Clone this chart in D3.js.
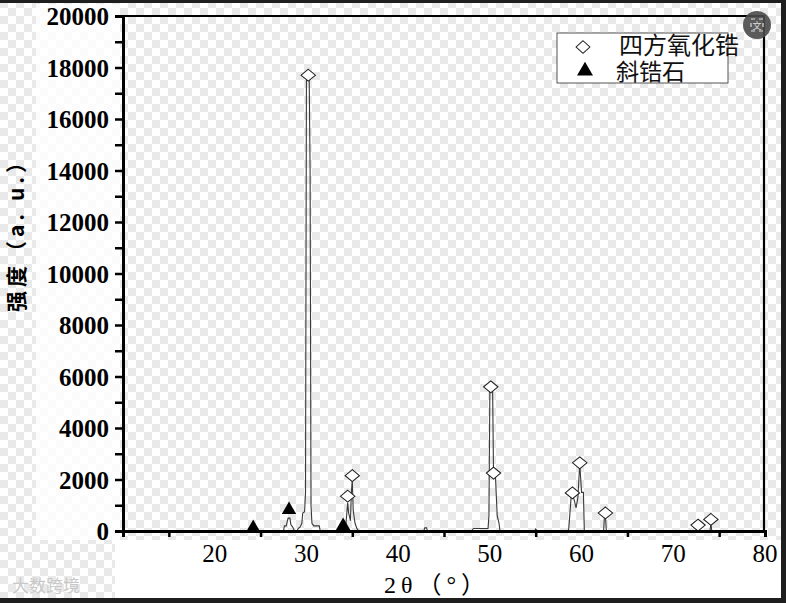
<!DOCTYPE html>
<html><head><meta charset="utf-8">
<script src="https://cdn.jsdelivr.net/npm/d3@7"></script>
<style>html,body{margin:0;padding:0;background:#fff;}svg{display:block;}</style>
</head><body>
<script>
// ---- data ----
const spectrumTheta = [26.5,27.5,27.6,27.8,27.9,28.0,28.2,28.3,28.5,28.7,29.0,29.1,29.3,29.5,29.6,29.8,29.9,30.0,30.3,30.4,30.5,30.6,30.8,31.4,31.5,
  34.2,34.3,34.5,34.6,34.8,34.9,35.0,35.1,35.3,35.5,35.7,
  42.8,42.9,43.1,43.2,
  48.0,48.2,49.8,49.9,50.0,50.3,50.4,50.6,50.8,51.0,51.1,
  54.9,55.0,55.2,
  58.5,58.6,58.9,59.2,59.4,59.6,59.8,60.0,60.2,60.3,
  62.4,62.5,62.6,62.7,
  72.6,72.7,72.8,
  74.0,74.1,74.2,76.0];
const spectrumIntensity = [0,0,200,200,350,500,500,250,150,0,0,100,150,300,700,750,1500,17500,17700,14000,1000,300,200,200,0,
  0,250,1100,700,400,1500,2000,800,300,100,0,
  0,120,120,0,
  0,100,100,600,5500,5500,2200,2200,600,300,0,
  0,80,0,
  0,80,1500,1200,900,1300,2600,1500,1500,0,
  0,600,600,0,
  0,200,0,
  0,300,0,0];
const tetragonalTheta = [30.2,34.5,35.0,50.1,50.4,59.0,59.8,62.6,72.7,74.1];
const tetragonalIntensity = [17700,1350,2150,5600,2250,1480,2650,700,230,450];
const monoclinicTheta = [24.2,28.1,34.0];
const monoclinicIntensity = [120,820,200];
const xTickLabels = [20,30,40,50,60,70,80];
const xMinorTicks = [15,25,35,45,55,65,75];
const yTickLabels = [0,2000,4000,6000,8000,10000,12000,14000,16000,18000,20000];
const legendLabels = ["四方氧化锆","斜锆石"];
const xTitle = "2θ（°）";
const yTitle = "强度（a. u.）";

const W = 786, H = 603;
const svg = d3.select("body").append("svg").attr("width", W).attr("height", H);

// checkerboard background
const defs = svg.append("defs");
const pat = defs.append("pattern").attr("id","chk").attr("width",16).attr("height",16)
  .attr("patternUnits","userSpaceOnUse");
pat.append("rect").attr("width",16).attr("height",16).attr("fill","#ffffff");
pat.append("rect").attr("x",0).attr("y",0).attr("width",8).attr("height",8).attr("fill","#e9e9e9");
pat.append("rect").attr("x",8).attr("y",8).attr("width",8).attr("height",8).attr("fill","#e9e9e9");
svg.append("rect").attr("width",W).attr("height",H).attr("fill","url(#chk)");
// lighter label areas
svg.append("rect").attr("x",36).attr("y",4).attr("width",84).attr("height",536).attr("fill","#fff").attr("opacity",0.8);
svg.append("rect").attr("x",115).attr("y",540).attr("width",666).attr("height",58).attr("fill","#fff");

// dark frame
svg.append("rect").attr("x",0).attr("y",0).attr("width",W).attr("height",3).attr("fill","#1e1e1e");
svg.append("rect").attr("x",0).attr("y",598).attr("width",W).attr("height",5).attr("fill","#1e1e1e");
svg.append("rect").attr("x",781).attr("y",0).attr("width",5).attr("height",H).attr("fill","#1e1e1e");

const x = d3.scaleLinear().domain([10,80]).range([123,765]);
const y = d3.scaleLinear().domain([0,20000]).range([531,16]);

// spectrum line
const pts = spectrumTheta.map((t,i)=>[t,spectrumIntensity[i]]);
const line = d3.line().x(d=>x(d[0])).y(d=>y(d[1]));
svg.append("path").datum(pts).attr("d",line).attr("fill","none")
  .attr("stroke","#3a3a3a").attr("stroke-width",1.1);

// markers
const diamond = d3.symbol().type(d3.symbolDiamond2).size(100);
svg.append("g").selectAll("path").data(tetragonalTheta.map((t,i)=>[t,tetragonalIntensity[i]]))
  .join("path").attr("d",diamond)
  .attr("transform",d=>`translate(${x(d[0])},${y(d[1])}) scale(1.15,0.95)`)
  .attr("fill","#fff").attr("stroke","#222").attr("stroke-width",1);
const tri = d3.symbol().type(d3.symbolTriangle).size(90);
svg.append("g").selectAll("path").data(monoclinicTheta.map((t,i)=>[t,monoclinicIntensity[i]]))
  .join("path").attr("d",tri)
  .attr("transform",d=>`translate(${x(d[0])},${y(d[1])})`)
  .attr("fill","#000");

// frame top/right
svg.append("line").attr("x1",123).attr("x2",765).attr("y1",16).attr("y2",16).attr("stroke","#000").attr("stroke-width",2.2);
svg.append("line").attr("x1",764).attr("x2",764).attr("y1",16).attr("y2",531).attr("stroke","#000").attr("stroke-width",2.2);

// axes
const serif = "'Liberation Serif','Times New Roman',serif";
const yAxis = d3.axisLeft(y).tickValues(d3.range(0,20001,1000)).tickSize(8)
  .tickFormat(d=> yTickLabels.includes(d) ? d : "");
const gy = svg.append("g").attr("transform","translate(123,0)").call(yAxis);
gy.select(".domain").attr("stroke","#000").attr("stroke-width",3);
gy.selectAll(".tick line").attr("stroke","#000").attr("stroke-width",2.5);
gy.selectAll(".tick text").attr("font-family",serif).attr("font-size",25).attr("font-weight","bold")
  .attr("fill","#000").attr("x",-14).attr("dy","0.34em");

const xAxis = d3.axisBottom(x).tickValues(xMinorTicks).tickSize(6).tickFormat("");
const gx = svg.append("g").attr("transform","translate(0,531)").call(xAxis);
gx.select(".domain").attr("stroke","#000").attr("stroke-width",3);
gx.selectAll(".tick line").attr("stroke","#000").attr("stroke-width",2.5);
svg.append("g").selectAll("text").data(xTickLabels).join("text")
  .attr("x",d=>x(d)).attr("y",562).attr("text-anchor","middle")
  .attr("font-family",serif).attr("font-size",25).attr("fill","#000").text(d=>d);

// axis titles
svg.append("text").attr("x",437).attr("y",593).attr("text-anchor","middle")
  .attr("font-family",serif+",'Noto Sans CJK SC'").attr("font-size",24).attr("letter-spacing",5).attr("fill","#000")
  .text(xTitle);
svg.append("text").attr("transform","translate(24,230) rotate(-90)").attr("text-anchor","middle")
  .attr("font-family","'Noto Sans CJK SC'").attr("font-size",21).attr("font-weight","bold")
  .attr("letter-spacing",4).attr("fill","#000").text(yTitle);

// legend
const lg = svg.append("g");
lg.append("rect").attr("x",557).attr("y",33).attr("width",171).attr("height",50)
  .attr("fill","#fff").attr("stroke","#555").attr("stroke-width",1);
lg.append("path").attr("d",diamond).attr("transform","translate(583,47) scale(1.1,1)")
  .attr("fill","#fff").attr("stroke","#222").attr("stroke-width",1);
lg.append("path").attr("d",d3.symbol().type(d3.symbolTriangle).size(110)).attr("transform","translate(585,71)")
  .attr("fill","#000");
lg.selectAll("text").data(legendLabels).join("text")
  .attr("x",(d,i)=> i===0 ? 619 : 616).attr("y",(d,i)=> i===0 ? 54 : 80)
  .attr("font-family","'Noto Sans CJK SC'").attr("font-size",(d,i)=> i===0 ? 24 : 23)
  .attr("fill","#111").text(d=>d);

// overlay badge
svg.append("circle").attr("cx",757).attr("cy",25).attr("r",14).attr("fill","#4a4a4a").attr("opacity",0.9);
svg.append("rect").attr("x",751).attr("y",19).attr("width",12).attr("height",12).attr("fill","none")
  .attr("stroke","#ddd").attr("stroke-width",1.2).attr("stroke-dasharray","4 4");
svg.append("text").attr("x",757).attr("y",29).attr("text-anchor","middle").attr("font-size",9)
  .attr("fill","#ddd").attr("font-family","'Noto Sans CJK SC'").text("文");

// watermark
svg.append("text").attr("x",12).attr("y",592).attr("font-family","'Noto Sans CJK SC'").attr("font-size",17)
  .attr("fill","#c8c8c8").text("大数跨境");
</script>
</body></html>
